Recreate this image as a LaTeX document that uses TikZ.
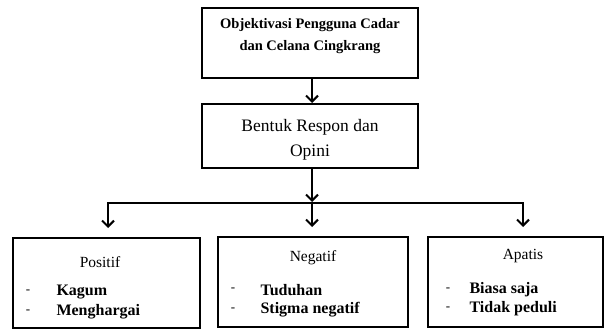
\documentclass[tikz,border=0pt]{standalone}
\usepackage{fontspec}
\setmainfont{Liberation Serif}
\usetikzlibrary{arrows.meta}
\begin{document}
\begin{tikzpicture}[x=1pt,y=-1pt,
  box/.style={draw,line width=2pt,rectangle,inner sep=0pt},
  arr/.style={line width=2pt,-{Straight Barb[length=6pt,width=12pt,line width=2pt]}},
  ln/.style={line width=2pt},
  ttl/.style={font=\fontsize{15.5}{17}\selectfont,anchor=center},
  itm/.style={font=\bfseries\fontsize{16}{18}\selectfont,anchor=west},
  dsh/.style={font=\fontsize{13}{15}\selectfont,anchor=center}]
\useasboundingbox (0,0) rectangle (607,331);
\node[box,minimum width=216pt,minimum height=70pt] (obj) at (310,43) {};
\node[font=\bfseries\fontsize{14.5}{22}\selectfont,align=center] (objt) at (310,36) {Objektivasi Pengguna Cadar\\dan Celana Cingkrang};
\node[box,minimum width=216pt,minimum height=64pt] (resp) at (310,136) {};
\node[font=\fontsize{17.5}{25}\selectfont,align=center] (respt) at (310,140) {Bentuk Respon dan\\Opini};
\node[box,minimum width=187pt,minimum height=90pt] (pos) at (106.5,283) {};
\node[box,minimum width=190pt,minimum height=90pt] (neg) at (313,282) {};
\node[box,minimum width=175pt,minimum height=90pt] (apa) at (515.5,282) {};
% titles and items
\node[ttl] (post) at (100,262) {Positif};
\node[dsh] (pd1) at (28,292) {-};
\node[dsh] (pd2) at (28,312) {-};
\node[itm] (pi1) at (53,292) {Kagum};
\node[itm] (pi2) at (53,312) {Menghargai};
\node[ttl] (negt) at (313,258) {Negatif};
\node[dsh] (nd1) at (233,290) {-};
\node[dsh] (nd2) at (233,310) {-};
\node[itm] (ni1) at (257,290) {Tuduhan};
\node[itm] (ni2) at (257,310) {Stigma negatif};
\node[ttl] (apat) at (523,256) {Apatis};
\node[dsh] (ad1) at (448,290) {-};
\node[dsh] (ad2) at (448,309) {-};
\node[itm] (ai1) at (466,290) {Biasa saja};
\node[itm] (ai2) at (466,309) {Tidak peduli};
% connectors
\coordinate (hub) at (312,203);
\coordinate (hl) at (108,203);
\coordinate (hr) at (523,203);
\draw[arr] (obj.south -| hub) -- (resp.north -| hub);
\draw[arr] (resp.south -| hub) -- ([yshift=1pt]hub);
\draw[ln] ([xshift=-1pt]hl) -- ([xshift=1pt]hr);
\draw[arr] (hl) -- ([yshift=9pt]pos.north -| hl);
\draw[arr] (hub) -- ([yshift=9pt]neg.north -| hub);
\draw[arr] (hr) -- ([yshift=9pt]apa.north -| hr);
\end{tikzpicture}
\end{document}
